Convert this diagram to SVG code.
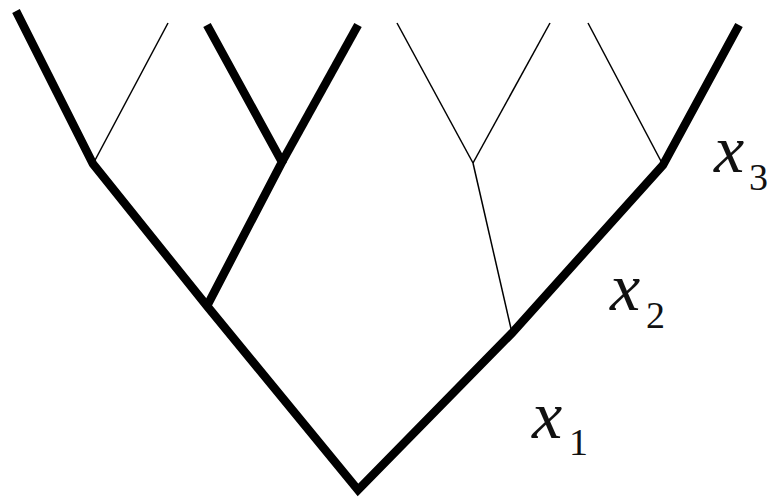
<svg xmlns="http://www.w3.org/2000/svg" width="771" height="499" viewBox="0 0 771 499">
<style>
.thick{stroke:#000;stroke-width:8.5;fill:none;stroke-linejoin:miter;stroke-linecap:butt}
.thin{stroke:#000;stroke-width:1.5;fill:none}
.x{font-family:"Liberation Serif","Times New Roman",serif;font-style:italic;font-size:68px;fill:#111}
.s{font-family:"Liberation Serif","Times New Roman",serif;font-size:38px;fill:#111}
</style>
<rect width="771" height="499" fill="#fff"/>
<g id="connectors">
<line class="thin" x1="93" y1="164" x2="168" y2="23"/>
<line class="thin" x1="473" y1="163" x2="397" y2="23"/>
<line class="thin" x1="473" y1="163" x2="550" y2="23"/>
<line class="thin" x1="473" y1="163" x2="512" y2="333"/>
<line class="thin" x1="663" y1="165" x2="588" y2="23"/>
<polyline class="thick" points="16,11 93,164 207,306 358,490 512,333 663,165 739,25"/>
<polyline class="thick" points="207,306 282,162 207,25"/>
<line class="thick" x1="282" y1="162" x2="358" y2="25"/>
</g>
<g id="label-x3"><text class="x" x="714" y="172">x</text><text class="s" x="749" y="190">3</text></g>
<g id="label-x2"><text class="x" x="610" y="310">x</text><text class="s" x="646" y="328">2</text></g>
<g id="label-x1"><text class="x" x="532" y="438">x</text><text class="s" x="569" y="455">1</text></g>
</svg>
